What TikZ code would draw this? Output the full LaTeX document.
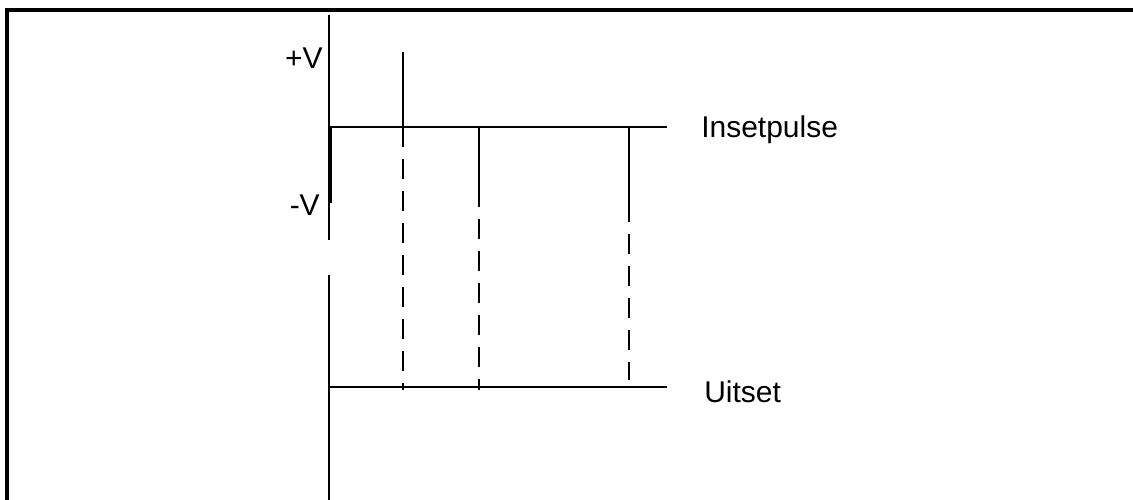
\documentclass[tikz,border=0pt]{standalone}
\usepackage{fontspec}
\setmainfont{Liberation Sans}
\usepackage{tikz}
\usetikzlibrary{positioning}

\begin{document}
\begin{tikzpicture}
		[x=1pt,y=-1pt,line width=2.5pt,every node/.style={inner sep=0pt,font=\fontsize{30}{36}\selectfont}]
		\useasboundingbox (0,0) rectangle (1133,500);
		% frame
		\draw[line width=4.5pt] (7,500) -- (7,10) -- (1133,10);
		
		\coordinate (a1) at (329,15);
		\coordinate (a2) at (329,240);
		\coordinate (b1) at (329,275);
		\coordinate (b2) at (329,500);
		\coordinate (i1) at (329,127);
		\coordinate (i2) at (667,127);
		\coordinate (u1) at (329,387);
		\coordinate (u2) at (667,387);
		\coordinate (m1) at (330.5,127);
		\coordinate (m2) at (330.5,203);
		\coordinate (p1) at (403,52);
		\coordinate (q1) at (403,147);
		\coordinate (r1) at (403,390);
		\coordinate (p2) at (479,127);
		\coordinate (q2) at (479,207);
		\coordinate (r2) at (479,390);
		\coordinate (p3) at (629,127);
		\coordinate (q3) at (629,202);
		\coordinate (r3) at (629,380);
		
		\node[anchor=base east] (pv) at (324,69) {+V};
		\node[anchor=base east] (mv) at (321,215) {-V};
		\node[anchor=base west] (ins) at (700,138) {Insetpulse};
		\node[anchor=base west] (uit) at (703,402) {Uitset};
		
		\foreach \from/\to in
		{a1/a2, b1/b2, i1/i2, u1/u2, p1/q1, p2/q2, p3/q3}
		\draw (\from) -- (\to);
		\draw[line width=3.8pt] (m1) -- (m2);
		
		\foreach \from/\to/\ph in
		{q1/r1/20, q2/r2/20, q3/r3/0}
		\draw[dash pattern=on 20pt off 12pt,dash phase=\ph pt] (\from) -- (\to);
		\end{tikzpicture}
\end{document}
